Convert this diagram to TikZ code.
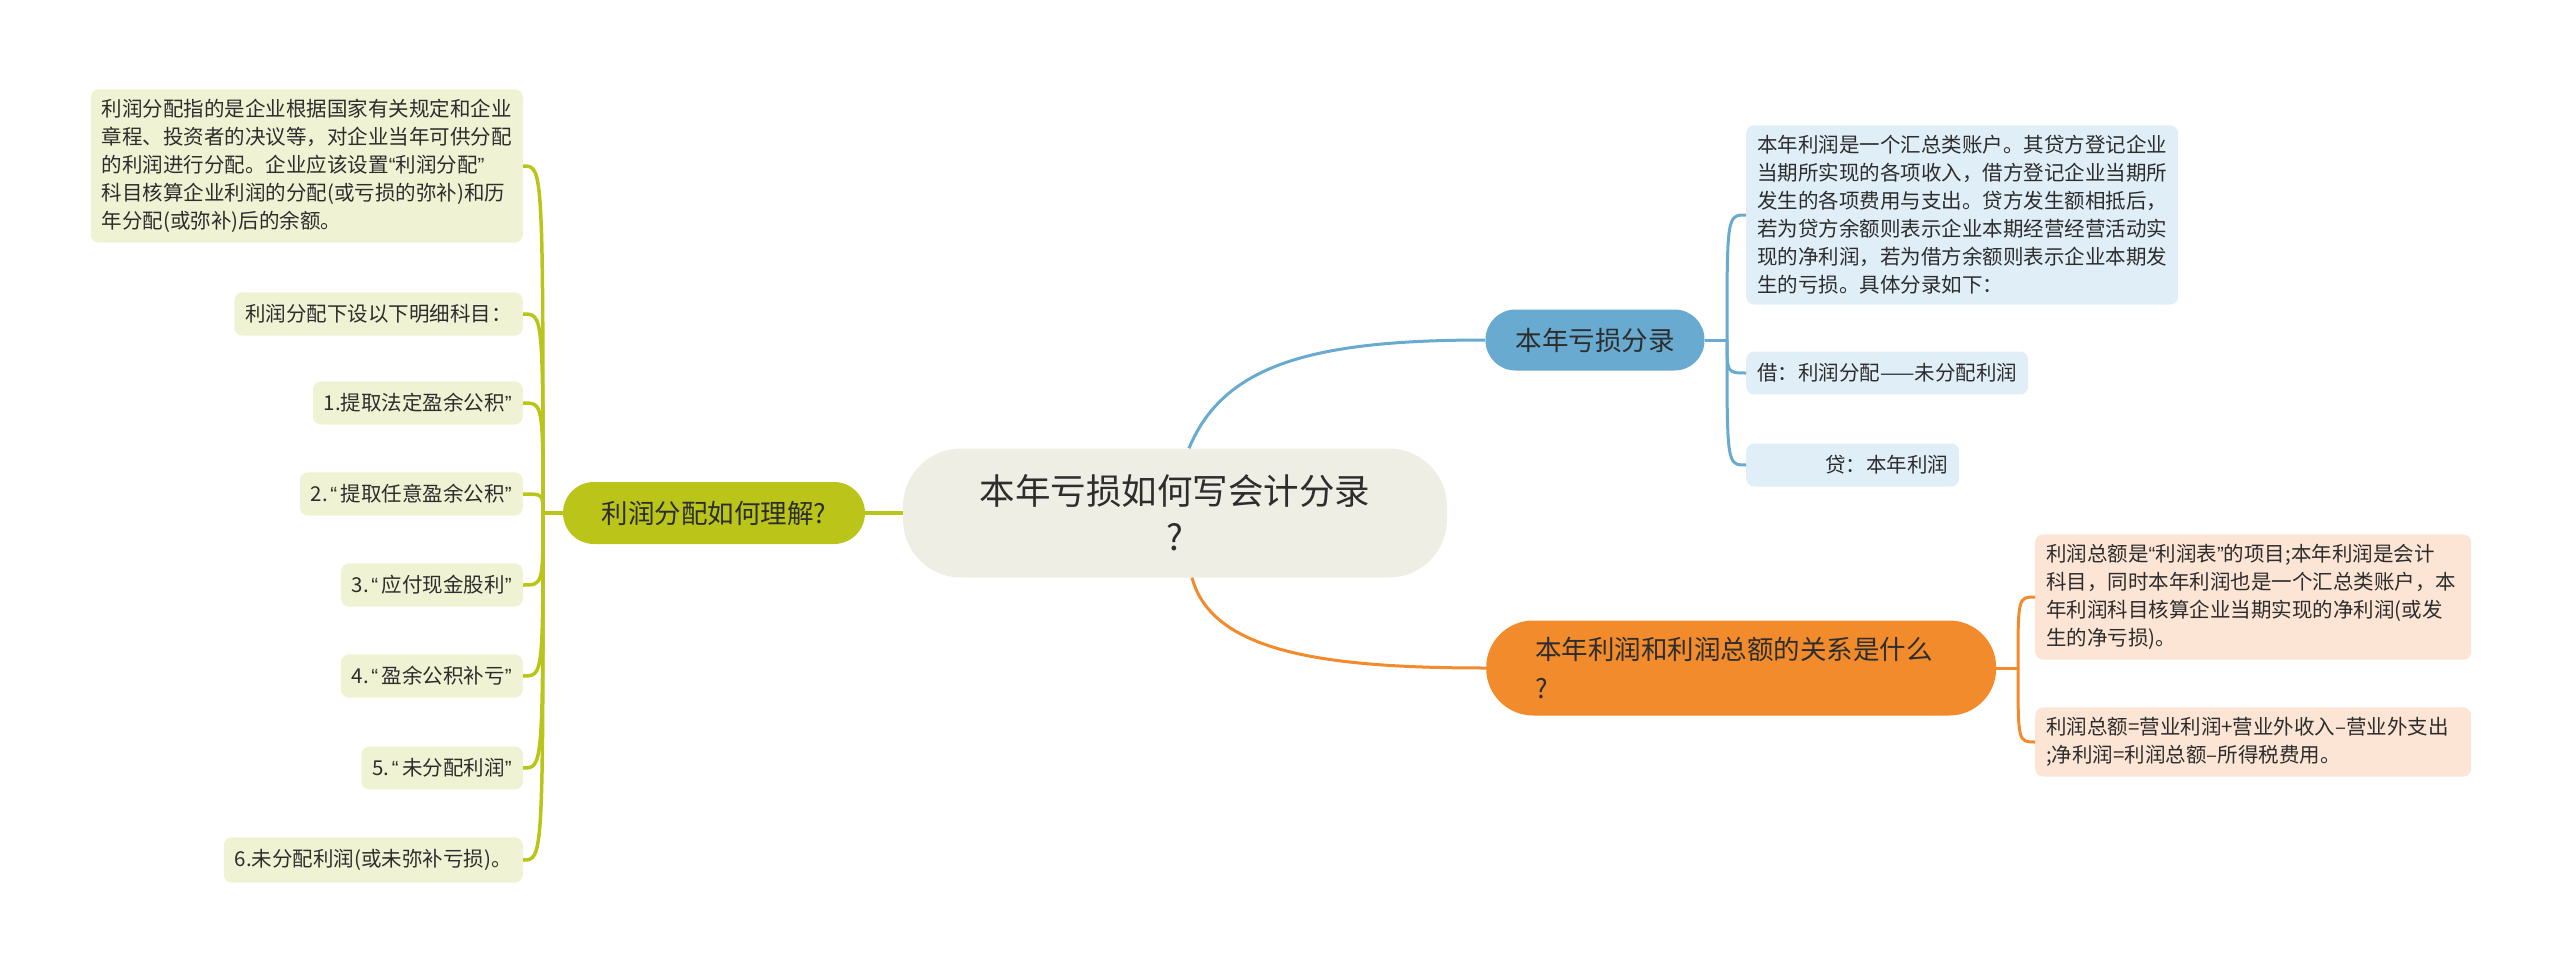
\documentclass[tikz,border=0pt]{standalone}
\usepackage{fontspec}
\usepackage{tikz}
\usetikzlibrary{calc}
\newfontfamily\cjk{Noto Sans CJK SC}
\newfontfamily\latf{Liberation Sans}
\newcommand{\qopen}{{\latf\kern0.12em“\kern0.18em}}
\newcommand{\qclose}{{\latf ”}}
\definecolor{centerfill}{RGB}{238,238,229}
\definecolor{topicgreen}{RGB}{187,196,24}
\definecolor{leafgreen}{RGB}{240,242,212}
\definecolor{topicblue}{RGB}{104,170,208}
\definecolor{leafblue}{RGB}{224,238,247}
\definecolor{topicorange}{RGB}{242,139,44}
\definecolor{leaforange}{RGB}{252,229,213}
\definecolor{textdark}{RGB}{45,45,45}

\tikzset{
  leaf/.style={rounded corners=8pt, inner xsep=11pt, inner ysep=10pt, align=left,
    text=textdark, font=\cjk\fontsize{20.5}{28}\selectfont},
  topic/.style={inner xsep=30pt, inner ysep=0pt, text=textdark,
    font=\cjk\fontsize{26.5}{39}\selectfont},
  greenline/.style={draw=topicgreen, line width=3.5pt},
  blueline/.style={draw=topicblue, line width=3pt},
  orangeline/.style={draw=topicorange, line width=3pt}
}

\begin{document}
\begin{tikzpicture}[x=1pt,y=-1pt]
    \useasboundingbox (0,0) rectangle (2560,974);
    % Central topic
    \node[fill=centerfill, rounded corners=58pt, minimum width=544pt, minimum height=129pt,
          align=center, text=textdark, font=\cjk\fontsize{35.5}{46}\selectfont] (root) at (1175,513)
          {本年亏损如何写会计分录\\?};

    % Left branch
    \node[topic, fill=topicgreen, rounded corners=31pt, minimum width=302pt, minimum height=62pt] (fenpei) at (714,513) {利润分配如何理解?};
    \draw[greenline] (fenpei) -- (root);
    \coordinate (lj) at (543,513);
    \draw[greenline] (fenpei.west) -- (lj);
    \node[leaf, fill=leafgreen, anchor=east] (g1) at (523,166)
        {利润分配指的是企业根据国家有关规定和企业\\章程、投资者的决议等，对企业当年可供分配\\的利润进行分配。企业应该设置{\latf “}利润分配\qclose\\科目核算企业利润的分配(或亏损的弥补)和历\\年分配(或弥补)后的余额。};
    \foreach \name/\y/\txt in {g2/314/{利润分配下设以下明细科目：},
                              g3/403/{1.提取法定盈余公积\qclose},
                              g4/494/{2.\qopen 提取任意盈余公积\qclose},
                              g5/585/{3.\qopen 应付现金股利\qclose},
                              g6/676/{4.\qopen 盈余公积补亏\qclose},
                              g7/768/{5.\qopen 未分配利润\qclose},
                              g8/860/{6.未分配利润(或未弥补亏损)。}} {
        \node[leaf, fill=leafgreen, anchor=east, inner ysep=12pt] (\name) at (523,\y) {\txt};
    }
    \foreach \name in {g1,g2,g3,g4,g5,g6,g7,g8} {
        \draw[greenline] (lj) .. controls (lj |- \name.east) .. (\name.east);
    }

    % Upper right branch
    \node[topic, fill=topicblue, rounded corners=30pt, minimum width=219pt, minimum height=61pt] (kuisun) at (1595,340) {本年亏损分录};
    \draw[blueline] ([xshift=14pt]root.north) .. controls +(35,-85) and +(-170,0) .. (kuisun.west);
    \coordinate (bj) at (1727,340);
    \draw[blueline] (kuisun.east) -- (bj);
    \node[leaf, fill=leafblue, anchor=west] (b1) at (1746,215)
        {本年利润是一个汇总类账户。其贷方登记企业\\当期所实现的各项收入，借方登记企业当期所\\发生的各项费用与支出。贷方发生额相抵后，\\若为贷方余额则表示企业本期经营经营活动实\\现的净利润，若为借方余额则表示企业本期发\\生的亏损。具体分录如下：};
    \node[leaf, fill=leafblue, anchor=west, inner ysep=12pt] (b2) at (1746,373) {借：利润分配——未分配利润};
    \node[leaf, fill=leafblue, anchor=west, inner ysep=12pt] (b3) at (1746,465) {\hspace*{68pt}贷：本年利润};
    \foreach \name in {b1,b2,b3} {
        \draw[blueline] (bj) .. controls (bj |- \name.west) .. (\name.west);
    }

    % Lower right branch
    \node[topic, fill=topicorange, rounded corners=47pt, inner xsep=49pt, text width=412pt,
          align=left, minimum height=95pt, anchor=west] (guanxi) at (1486,668)
          {本年利润和利润总额的关系是什么\\?};
    \draw[orangeline] ([xshift=17pt]root.south) .. controls +(20,75) and +(-160,0) .. (guanxi.west);
    \coordinate (oj) at (2018,668);
    \draw[orangeline] (guanxi.east) -- (oj);
    \node[leaf, fill=leaforange, anchor=west, text width=414pt] (o1) at (2035,597)
        {利润总额是{\latf “}利润表\qclose 的项目;本年利润是会计\\科目，同时本年利润也是一个汇总类账户，本\\年利润科目核算企业当期实现的净利润(或发\\生的净亏损)。};
    \node[leaf, fill=leaforange, anchor=west, text width=414pt] (o2) at (2035,742)
        {利润总额=营业利润+营业外收入–营业外支出\\;净利润=利润总额–所得税费用。};
    \foreach \name in {o1,o2} {
        \draw[orangeline] (oj) .. controls (oj |- \name.west) .. (\name.west);
    }
\end{tikzpicture}
\end{document}
